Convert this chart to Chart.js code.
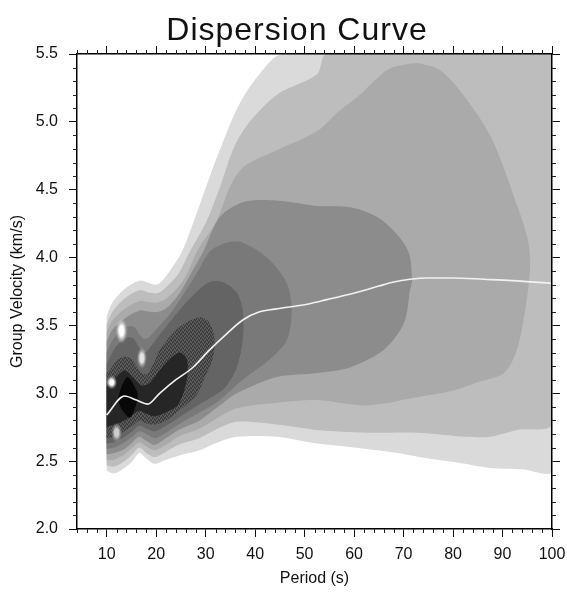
<!DOCTYPE html>
<html>
<head>
<meta charset="utf-8">
<script src="https://cdn.jsdelivr.net/npm/chart.js@4.4.1/dist/chart.umd.min.js"></script>
<style>
  html, body { margin: 0; padding: 0; background: #fff; }
</style>
</head>
<body>
<canvas id="dispersionCanvas" width="567" height="592"></canvas>
<script>
// axis ticks
const xTicks = [10, 20, 30, 40, 50, 60, 70, 80, 90, 100];
const yTicks = [2.0, 2.5, 3.0, 3.5, 4.0, 4.5, 5.0, 5.5];
const xMinorTicks = [];
for (let v = 4; v <= 100; v += 2) if (v % 10 !== 0) xMinorTicks.push(v);
const yMinorTicks = [];
for (let i = 20; i <= 55; i++) if (i % 5 !== 0) yMinorTicks.push(i / 10);

// contour bands, [period (s), group velocity (km/s)], outermost first
const level1 = [[10,2.43],[11.5,2.41],[13.6,2.45],[15.2,2.5],[16.6,2.56],[18,2.52],[19.7,2.48],[22,2.51],[24.5,2.54],[28.8,2.58],[32.5,2.64],[36.3,2.68],[44.4,2.68],[52.5,2.63],[60,2.6],[68.7,2.56],[75,2.52],[80.8,2.49],[87.5,2.45],[94,2.44],[100,2.43],[100,5.5],[45.5,5.5],[41.5,5.38],[36.8,5.13],[32.5,4.76],[28.8,4.39],[25.3,4.05],[23.1,3.92],[21.7,3.85],[20.1,3.8],[18.7,3.81],[16.7,3.83],[14,3.78],[12,3.71],[11,3.66],[10,3.57]];
const level2 = [[10,2.47],[11.5,2.46],[13.6,2.5],[15.2,2.55],[16.6,2.6],[18,2.56],[19.7,2.53],[22,2.57],[24.5,2.62],[28.8,2.67],[32.5,2.74],[36.3,2.79],[44.4,2.77],[52.5,2.73],[62.6,2.71],[72.7,2.71],[82.8,2.68],[87.5,2.68],[92.9,2.73],[100,2.78],[100,5.5],[54.5,5.5],[52.5,5.35],[44.4,5.2],[38.9,5.0],[35.7,4.81],[32.9,4.52],[30.2,4.27],[26.9,4.05],[24.5,3.88],[22.5,3.8],[20.5,3.74],[18.7,3.74],[16.7,3.76],[14,3.71],[12,3.64],[11,3.59],[10,3.51]];
const level3 = [[10,2.51],[11.5,2.51],[13.6,2.55],[15.2,2.6],[16.6,2.64],[18,2.61],[19.7,2.58],[22,2.62],[24.5,2.68],[28.8,2.74],[32.5,2.82],[36.3,2.89],[44.4,2.93],[52.5,2.95],[62.6,2.91],[72.7,2.97],[80,3.02],[84.8,3.08],[90.3,3.15],[92.9,3.32],[94.9,3.69],[95.6,3.97],[95,4.15],[92.9,4.39],[88.3,4.84],[85,5.05],[81.4,5.23],[77.4,5.38],[73.3,5.43],[70,5.42],[67,5.39],[64,5.3],[61.2,5.2],[57,5.08],[52.5,4.93],[44.4,4.79],[37.7,4.67],[34.9,4.52],[32.2,4.27],[28.3,4.05],[26.5,3.9],[24.8,3.8],[22.5,3.71],[20.5,3.67],[18.7,3.67],[16.7,3.68],[14,3.63],[12,3.57],[11,3.53],[10,3.45]];
const level4 = [[10,2.55],[11.5,2.56],[13.6,2.59],[15.2,2.64],[16.6,2.68],[18,2.65],[19.7,2.62],[22,2.67],[24.5,2.73],[28.8,2.8],[32.5,2.9],[36.3,3.0],[44.4,3.12],[52.5,3.15],[59.2,3.19],[66,3.32],[70.1,3.52],[71.3,3.76],[71.7,3.83],[71.1,4.03],[68.7,4.17],[64.6,4.3],[59.2,4.37],[52.5,4.38],[44.4,4.42],[37.7,4.41],[32.9,4.3],[29.6,4.05],[27,3.88],[24.8,3.74],[22.5,3.64],[20.5,3.6],[18.7,3.6],[16.7,3.61],[14,3.56],[12,3.5],[11,3.46],[10,3.38]];
const level5 = [[10,2.59],[11.5,2.6],[13.6,2.64],[15.2,2.68],[16.6,2.72],[18,2.7],[19.7,2.67],[22,2.71],[24.5,2.77],[28.8,2.86],[32.5,2.94],[37.5,3.1],[43,3.25],[46.4,3.39],[47.4,3.61],[46.4,3.81],[42.4,4.0],[37.5,4.11],[34.3,4.11],[31,4.05],[27.8,3.86],[25,3.7],[22.7,3.58],[20.7,3.5],[19,3.43],[17.8,3.4],[16.7,3.43],[15.5,3.49],[14,3.49],[12,3.43],[11,3.38],[10,3.3]];
const level6 = [[10,2.63],[11.5,2.64],[13.6,2.68],[15.2,2.72],[16.6,2.76],[18,2.74],[19.7,2.72],[22,2.76],[24.5,2.82],[28.8,2.92],[32.5,3.0],[34.3,3.06],[36.3,3.19],[37.5,3.39],[37.5,3.61],[36.3,3.74],[33.5,3.82],[30.8,3.82],[27.4,3.72],[23.3,3.55],[20.7,3.43],[19,3.35],[17.8,3.3],[16.7,3.33],[15.5,3.4],[14,3.41],[12,3.35],[11,3.29],[10,3.22]];
const level7 = [[10,2.67],[11.5,2.68],[13.6,2.72],[15.2,2.76],[16.6,2.8],[18,2.78],[19.7,2.77],[22,2.8],[24.5,2.87],[28,2.98],[29.4,3.08],[31.4,3.25],[31.8,3.39],[30.8,3.52],[28.8,3.56],[24.8,3.49],[20.7,3.32],[19.5,3.22],[18,3.14],[16.7,3.16],[15,3.25],[13.5,3.27],[12,3.24],[11,3.19],[10,3.15]];
const level8 = [[10,2.75],[11.5,2.77],[13.6,2.8],[15.2,2.84],[16.6,2.87],[18,2.85],[19.7,2.83],[22,2.86],[24.5,2.92],[26.2,3.1],[26.2,3.25],[24.8,3.3],[22.7,3.25],[20.7,3.17],[18.5,3.07],[17,3.06],[15.3,3.12],[13.6,3.17],[11.6,3.11],[10,3.05]];
const level9 = [[12.2,2.95],[13,3.05],[14.2,3.12],[15.5,3.06],[16.3,2.99],[15.8,2.9],[14.7,2.82],[13,2.88]];
const contourLevels = [level1, level2, level3, level4, level5, level6, level7, level8, level9];
const contourColors = ['#dadada', '#bdbdbd', '#aaaaaa', '#8c8c8c', '#797979', '#646464', 'stipple', '#262626', '#080808'];

// bright local spots near the short-period edge
const spotPeriod = [13.0, 17.1, 11.0, 12.0];
const spotVelocity = [3.46, 3.26, 3.08, 2.71];

// picked dispersion curve
const linePeriod = [10, 13.6, 16, 18.3, 20.7, 24, 27.4, 30.8, 34.3, 37.5, 40.9, 44, 47.6, 51, 54.5, 58, 61.2, 65, 68, 71.3, 75, 80, 86.3, 92, 100];
const lineVelocity = [2.84, 2.98, 2.95, 2.92, 3.0, 3.1, 3.19, 3.32, 3.44, 3.54, 3.6, 3.62, 3.64, 3.66, 3.69, 3.72, 3.75, 3.79, 3.82, 3.84, 3.85, 3.85, 3.84, 3.83, 3.81];

function makeStipple() {
  const c = document.createElement('canvas');
  c.width = 4; c.height = 4;
  const g = c.getContext('2d');
  g.fillStyle = '#4a4a4a';
  g.fillRect(0, 0, 4, 4);
  g.fillStyle = '#666';
  [[0, 0], [2, 1], [1, 3], [3, 2]].forEach(p => g.fillRect(p[0], p[1], 1, 1));
  g.fillStyle = '#363636';
  [[1, 1], [3, 0], [0, 2], [2, 3]].forEach(p => g.fillRect(p[0], p[1], 1, 1));
  return g.createPattern(c, 'repeat');
}

function makeSpot(w, h, inner, outer) {
  const c = document.createElement('canvas');
  c.width = w; c.height = h;
  const g = c.getContext('2d');
  g.translate(w / 2, h / 2);
  g.scale(1, h / w);
  const grad = g.createRadialGradient(0, 0, 0, 0, 0, w / 2);
  grad.addColorStop(0, inner);
  grad.addColorStop(0.4, inner);
  grad.addColorStop(1, outer);
  g.fillStyle = grad;
  g.beginPath();
  g.arc(0, 0, w / 2, 0, Math.PI * 2);
  g.fill();
  return c;
}

const stipple = makeStipple();
const spotStyles = [
  makeSpot(12, 26, 'rgba(255,255,255,1)', 'rgba(190,190,190,0)'),
  makeSpot(10, 22, 'rgba(228,228,228,1)', 'rgba(170,170,170,0)'),
  makeSpot(11, 14, 'rgba(255,255,255,1)', 'rgba(170,170,170,0)'),
  makeSpot(11, 20, 'rgba(205,205,205,1)', 'rgba(140,140,140,0)')
];

const fontFamily = '"Liberation Sans", Arial, Helvetica, sans-serif';
const axisFont = { family: fontFamily, size: 16 };

// minor ticks on all four sides
const minorTicks = {
  id: 'minorTicks',
  afterDraw(chart) {
    const { ctx, chartArea: a, scales } = chart;
    ctx.save();
    ctx.strokeStyle = '#222';
    ctx.lineWidth = 1;
    ctx.beginPath();
    xMinorTicks.forEach(v => {
      const px = Math.round(scales.x.getPixelForValue(v)) + 0.5;
      ctx.moveTo(px, a.bottom); ctx.lineTo(px, a.bottom + 4);
      ctx.moveTo(px, a.top); ctx.lineTo(px, a.top - 4);
    });
    yMinorTicks.forEach(v => {
      const py = Math.round(scales.y.getPixelForValue(v)) + 0.5;
      ctx.moveTo(a.left, py); ctx.lineTo(a.left - 4, py);
      ctx.moveTo(a.right, py); ctx.lineTo(a.right + 4, py);
    });
    ctx.stroke();
    ctx.restore();
  }
};

const titleText = {
  id: 'titleText',
  afterDraw(chart) {
    const ctx = chart.ctx;
    ctx.save();
    ctx.font = '32px ' + fontFamily;
    ctx.letterSpacing = '1px';
    ctx.fillStyle = '#111';
    ctx.textAlign = 'center';
    ctx.textBaseline = 'alphabetic';
    ctx.fillText('Dispersion Curve', 297, 40);
    ctx.restore();
  }
};

const gridOpts = { drawOnChartArea: false, drawTicks: true, tickLength: 8, color: '#111', lineWidth: 1 };
const borderOpts = { display: true, color: '#000', width: 1.5, z: 1 };

const datasets = contourLevels.map((pts, i) => ({
  type: 'line',
  data: pts.map(p => ({ x: p[0], y: p[1] })),
  backgroundColor: contourColors[i] === 'stipple' ? stipple : contourColors[i],
  borderColor: 'rgba(0,0,0,0)',
  borderWidth: 0,
  pointRadius: 0,
  fill: 'shape',
  tension: 0.3,
  order: 20 - i
}));

datasets.push({
  type: 'scatter',
  data: spotPeriod.map((p, i) => ({ x: p, y: spotVelocity[i] })),
  pointStyle: spotStyles,
  pointRadius: 6,
  order: 2
});

datasets.push({
  type: 'line',
  data: linePeriod.map((p, i) => ({ x: p, y: lineVelocity[i] })),
  borderColor: '#f2f2f2',
  borderWidth: 1.6,
  pointRadius: 0,
  fill: false,
  cubicInterpolationMode: 'monotone',
  order: 0
});

new Chart(document.getElementById('dispersionCanvas').getContext('2d'), {
  type: 'line',
  data: { datasets: datasets },
  plugins: [minorTicks, titleText],
  options: {
    responsive: false,
    animation: false,
    events: [],
    layout: { padding: { top: 46, left: 0, right: 0, bottom: 0 } },
    plugins: { legend: { display: false }, tooltip: { enabled: false }, title: { display: false } },
    scales: {
      x: {
        type: 'linear', position: 'bottom', min: 4, max: 100,
        afterBuildTicks: s => { s.ticks = xTicks.map(v => ({ value: v })); },
        afterFit: s => { s.height = 63; s.paddingLeft = 0; s.paddingRight = 0; },
        ticks: { font: axisFont, color: '#111', padding: 8, maxRotation: 0, autoSkip: false, callback: v => String(v) },
        grid: gridOpts,
        border: borderOpts,
        title: { display: true, text: 'Period (s)', font: axisFont, color: '#111', padding: { top: 4, bottom: 4 } }
      },
      x2: {
        type: 'linear', position: 'top', min: 4, max: 100,
        afterBuildTicks: s => { s.ticks = xTicks.map(v => ({ value: v })); },
        afterFit: s => { s.height = 8; s.paddingLeft = 0; s.paddingRight = 0; },
        ticks: { callback: () => '', autoSkip: false },
        grid: gridOpts,
        border: borderOpts
      },
      y: {
        type: 'linear', position: 'left', min: 2, max: 5.5,
        afterBuildTicks: s => { s.ticks = yTicks.map(v => ({ value: v })); },
        afterFit: s => { s.width = 77; s.paddingTop = 0; s.paddingBottom = 0; },
        ticks: { font: axisFont, color: '#111', padding: 11, autoSkip: false, callback: v => v.toFixed(1) },
        grid: gridOpts,
        border: borderOpts,
        title: { display: true, text: 'Group Velocity (km/s)', font: axisFont, color: '#111', padding: { top: 8, bottom: 8 } }
      },
      y2: {
        type: 'linear', position: 'right', min: 2, max: 5.5,
        afterBuildTicks: s => { s.ticks = yTicks.map(v => ({ value: v })); },
        afterFit: s => { s.width = 15; s.paddingTop = 0; s.paddingBottom = 0; },
        ticks: { callback: () => '', autoSkip: false },
        grid: gridOpts,
        border: borderOpts
      }
    }
  }
});
</script>
</body>
</html>
